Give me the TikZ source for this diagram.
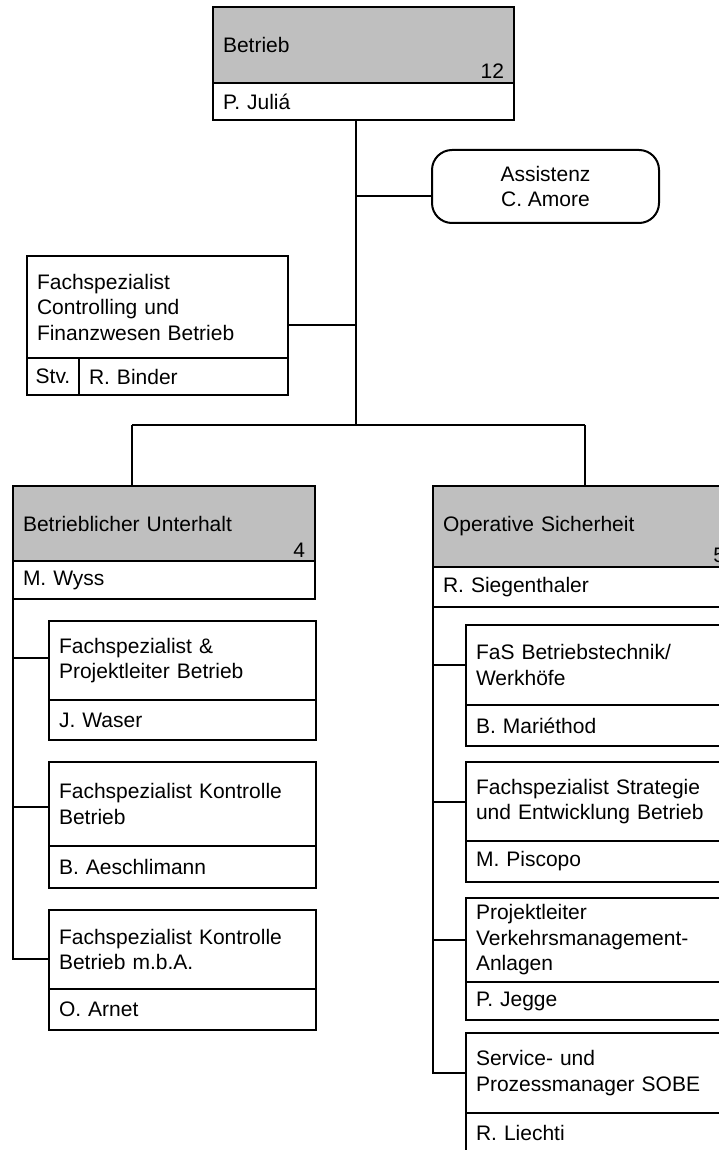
\documentclass[tikz,border=0pt]{standalone}
\usepackage{fontspec}
\setmainfont{Liberation Sans}
\tikzset{
  orgline/.style={line width=2pt},
  namebox/.style 2 args={draw, line width=2pt, outer sep=0pt, anchor=north west, align=left,
    inner xsep=10pt, inner ysep=0pt, text width=#1, minimum height=#2,
    font=\fontsize{21}{25.5}\selectfont},
  headbox/.style 2 args={namebox={#1}{#2}, fill=black!25},
  stvbox/.style={draw, line width=2pt, outer sep=0pt, anchor=north west, inner sep=0pt,
    minimum width=52pt, minimum height=37pt, font=\fontsize{21}{25.5}\selectfont},
  roundbox/.style={draw, line width=2pt, outer sep=0pt, rounded corners=20pt, align=center,
    minimum width=227pt, minimum height=73pt, font=\fontsize{21}{25.5}\selectfont},
  staffnr/.style={anchor=south east, inner xsep=10pt, inner ysep=4pt, outer sep=0pt,
    font=\fontsize{21}{25.5}\selectfont},
}
\begin{document}
\begin{tikzpicture}[x=1pt,y=-1pt]
    \useasboundingbox (0,0) rectangle (719,1150);
    \clip (0,0) rectangle (719,1150);

    \node[headbox={281pt}{76pt}] (betrieb) at (213,7) {Betrieb};
    \node[staffnr] (betriebnr) at (betrieb.south east) {12};
    \node[namebox={281pt}{37pt}] (julia) at (betrieb.south west) {P. Juliá};

    \node[roundbox] (assistenz) at (545.5,186.5) {Assistenz\\C. Amore};

    \node[namebox={241pt}{102pt}] (controlling) at (27,256) {Fachspezialist\\Controlling und\\Finanzwesen Betrieb};
    \node[stvbox] (stv) at (controlling.south west) {Stv.};
    \node[namebox={189pt}{37pt}] (binder) at (stv.north east) {R. Binder};

    \coordinate (hub) at (356,425);
    \coordinate (hubleft) at (132,425);
    \coordinate (hubright) at (585,425);
    \draw[orgline] (julia.south -| hub) -- (hub);
    \draw[orgline] ([yshift=-10pt]assistenz.west) -- ([yshift=-10pt]assistenz.west -| hub);
    \draw[orgline] ([yshift=-18pt]controlling.east) -- ([yshift=-18pt]controlling.east -| hub);
    \draw[orgline] (hubleft) -- (hubright);

    \node[headbox={282pt}{75pt}] (unterhalt) at (13,486) {Betrieblicher Unterhalt};
    \node[staffnr] (unterhaltnr) at (unterhalt.south east) {4};
    \node[namebox={282pt}{38pt}] (wyss) at (unterhalt.south west) {M. Wyss};
    \draw[orgline] (hubleft) -- (hubleft |- unterhalt.north);

    \node[namebox={247pt}{79pt}] (projektleiter) at (49,621) {Fachspezialist \&\\Projektleiter Betrieb};
    \node[namebox={247pt}{40pt}] (waser) at (projektleiter.south west) {J. Waser};
    \node[namebox={247pt}{84pt}] (kontrolle) at (49,762) {Fachspezialist Kontrolle\\Betrieb};
    \node[namebox={247pt}{42pt}] (aeschlimann) at (kontrolle.south west) {B. Aeschlimann};
    \node[namebox={247pt}{79pt}] (kontrollemba) at (49,910) {Fachspezialist Kontrolle\\Betrieb m.b.A.};
    \node[namebox={247pt}{41pt}] (arnet) at (kontrollemba.south west) {O. Arnet};
    \draw[orgline] (wyss.south west) |- ([yshift=3pt]projektleiter.west);
    \draw[orgline] (wyss.south west) |- ([yshift=-3pt]kontrolle.west);
    \draw[orgline] (wyss.south west) |- ([yshift=-9pt]kontrollemba.west);

    \node[headbox={282pt}{81pt}] (sicherheit) at (433,486) {Operative Sicherheit};
    \node[staffnr] (sicherheitnr) at (sicherheit.south east) {5};
    \node[namebox={282pt}{40pt}] (siegenthaler) at (sicherheit.south west) {R. Siegenthaler};
    \draw[orgline] (hubright) -- (hubright |- sicherheit.north);

    \node[namebox={247pt}{80pt}] (werkhoefe) at (466,625) {FaS Betriebstechnik/\\Werkhöfe};
    \node[namebox={247pt}{41pt}] (mariethod) at (werkhoefe.south west) {B. Mariéthod};
    \node[namebox={247pt}{79pt}] (strategie) at (466,762) {Fachspezialist Strategie\\und Entwicklung Betrieb};
    \node[namebox={247pt}{41pt}] (piscopo) at (strategie.south west) {M. Piscopo};
    \node[namebox={247pt}{84pt}] (vmanlagen) at (466,898) {Projektleiter\\Verkehrsmanagement-\\Anlagen};
    \node[namebox={247pt}{38pt}] (jegge) at (vmanlagen.south west) {P. Jegge};
    \node[namebox={247pt}{80pt}] (sobe) at (466,1033) {Service- und\\Prozessmanager SOBE};
    \node[namebox={247pt}{40pt}] (liechti) at (sobe.south west) {R. Liechti};
    \draw[orgline] (siegenthaler.south west) |- (werkhoefe.west);
    \draw[orgline] (siegenthaler.south west) |- (strategie.west);
    \draw[orgline] (siegenthaler.south west) |- (vmanlagen.west);
    \draw[orgline] (siegenthaler.south west) |- (sobe.west);
\end{tikzpicture}
\end{document}
